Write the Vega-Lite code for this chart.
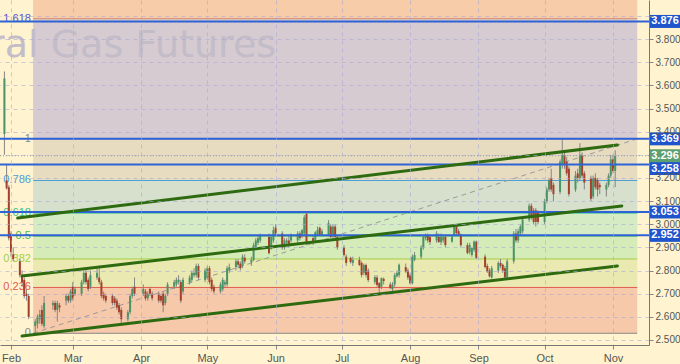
{
"$schema":"https://vega.github.io/schema/vega-lite/v6.json",
"width":649,"height":345,
"autosize":{"type":"none"},
"padding":{"left":0,"top":0,"right":31,"bottom":19},
"background":"#fff4cf",
"config":{"view":{"stroke":null},"font":"Liberation Sans","axis":{"labelOverlap":false,"labelBound":false,"labelSeparation":0},"axisY":{"labelOverlap":false,"tickCount":15}},
"resolve":{"scale":{"color":"independent","fill":"independent"}},
"datasets":{
"fib":[
{"lvl":"0","v":2.529},{"lvl":"0.236","v":2.727},{"lvl":"0.382","v":2.850},{"lvl":"0.5","v":2.949},
{"lvl":"0.618","v":3.048},{"lvl":"0.786","v":3.189},{"lvl":"1","v":3.369},{"lvl":"1.618","v":3.888}
],
"blue":[{"v":3.876},{"v":3.369},{"v":3.258},{"v":3.053},{"v":2.952}],
"price":[{"v":3.296}]
},
"layer":[
{"data":{"values":[
{"b":"a","lo":2.529,"hi":2.727},{"b":"b","lo":2.727,"hi":2.850},{"b":"c","lo":2.850,"hi":2.949},
{"b":"d","lo":2.949,"hi":3.048},{"b":"e","lo":3.048,"hi":3.189},{"b":"f","lo":3.189,"hi":3.369},
{"b":"g","lo":3.369,"hi":3.888},{"b":"h","lo":3.888,"hi":4.728}]},
"mark":{"type":"rect","clip":true},
"encoding":{
"x":{"datum":{"year":2018,"month":2,"date":11},"type":"temporal",
"scale":{"domain":[{"year":2018,"month":1,"date":27},{"year":2018,"month":11,"date":17,"hours":8}],"padding":0,"nice":false},
"axis":{"title":null,"format":"%b","tickCount":{"interval":"month","step":1},"labelColor":"#555555","labelFontSize":11,"labelFont":"Liberation Sans","tickSize":4,"tickColor":"#888888","domainColor":"#777777","grid":true,"gridColor":"#a8a8d8","gridDash":[4,4],"gridOpacity":0.6,"labelPadding":3,"zindex":1,"labelFlush":false,"labelOverlap":false}},
"x2":{"datum":{"year":2018,"month":11,"date":12}},
"y":{"field":"lo","type":"quantitative","scale":{"domain":[2.4784,3.9687],"nice":false,"zero":false,"padding":0},
"axis":{"title":null,"orient":"right","tickCount":15,"values":[2.5,2.6,2.7,2.8,2.9,3.0,3.1,3.2,3.3,3.4,3.5,3.6,3.7,3.8,3.9],"format":".3f","labelExpr":"(datum.value > 3.25 && datum.value < 3.35) || datum.value > 3.85 ? '' : datum.label","labelColor":"#555555","labelFontSize":10,"labelFont":"Liberation Sans","tickSize":4,"tickColor":"#888888","domainColor":"#777777","grid":true,"gridColor":"#a8a8d8","gridDash":[4,4],"gridOpacity":0.6,"labelPadding":2,"zindex":1,"labelOverlap":false}},
"y2":{"field":"hi"},
"fill":{"field":"b","type":"nominal","legend":null,
"scale":{"domain":["a","b","c","d","e","f","g","h"],"range":["#f6c9aa","#ebe9b2","#d6ecb8","#d4ebc4","#d6e0cd","#e8dcc0","#d6cbd0","#f6cca9"]}}
}},
{"data":{"values":[{"t":"Natural Gas Futures"}]},
"mark":{"type":"text","font":"DejaVu Sans","fontSize":38,"align":"right","baseline":"alphabetic","color":"#c3bcc9"},
"encoding":{"x":{"datum":{"year":2018,"month":6,"date":1,"hours":5},"type":"temporal"},"y":{"datum":3.722,"type":"quantitative"},"text":{"field":"t"}}},
{"data":{"name":"fib"},
"mark":{"type":"rule","strokeWidth":1},
"encoding":{"x":{"datum":{"year":2018,"month":2,"date":11},"type":"temporal"},"x2":{"datum":{"year":2018,"month":11,"date":12}},
"y":{"field":"v","type":"quantitative","title":null},
"color":{"field":"lvl","type":"nominal","legend":null,"scale":{"domain":["0","0.236","0.382","0.5","0.618","0.786","1","1.618"],"range":["#888888","#e25a50","#a4cf45","#4cb84c","#33c48c","#4aa0d8","#888888","#d98a6a"]}}}},
{"data":{"name":"fib"},
"mark":{"type":"text","align":"right","baseline":"middle","fontSize":11,"font":"Liberation Sans"},
"encoding":{"x":{"datum":{"year":2018,"month":2,"date":10},"type":"temporal"},
"y":{"field":"v","type":"quantitative","title":null},"text":{"field":"lvl"},
"color":{"field":"lvl","type":"nominal","legend":null,"scale":{"domain":["0","0.236","0.382","0.5","0.618","0.786","1","1.618"],"range":["#888888","#e25a50","#a4cf45","#4cb84c","#33c48c","#4aa0d8","#888888","#5555d0"]}}}},
{"data":{"values":[{"t1":"2018-02-11","v1":2.529,"t2":"2018-11-12","v2":3.369}],"format":{"parse":{"t1":"date:'%Y-%m-%d'","t2":"date:'%Y-%m-%d'"}}},
"mark":{"type":"rule","strokeDash":[5,4],"color":"#9a9a9a","strokeWidth":1},
"encoding":{"x":{"field":"t1","type":"temporal","title":null},"x2":{"field":"t2"},"y":{"field":"v1","type":"quantitative","title":null},"y2":{"field":"v2"}}},
{"data":{"values":[
{"d":"2018-01-29","o":3.39,"h":3.66,"l":3.30,"c":3.63},
{"d":"2018-01-30","o":3.19,"h":3.26,"l":3.15,"c":3.155},
{"d":"2018-01-31","o":3.16,"h":3.17,"l":2.93,"c":2.94},
{"d":"2018-02-01","o":2.96,"h":2.97,"l":2.86,"c":2.88},
{"d":"2018-02-02","o":2.87,"h":2.90,"l":2.84,"c":2.85},
{"d":"2018-02-05","o":2.84,"h":2.85,"l":2.77,"c":2.78},
{"d":"2018-02-06","o":2.78,"h":2.80,"l":2.73,"c":2.75},
{"d":"2018-02-07","o":2.76,"h":2.77,"l":2.68,"c":2.69},
{"d":"2018-02-08","o":2.70,"h":2.72,"l":2.67,"c":2.69},
{"d":"2018-02-09","o":2.69,"h":2.70,"l":2.59,"c":2.60},
{"d":"2018-02-12","o":2.56,"h":2.59,"l":2.529,"c":2.58},
{"d":"2018-02-13","o":2.57,"h":2.61,"l":2.55,"c":2.60},
{"d":"2018-02-14","o":2.59,"h":2.63,"l":2.57,"c":2.61},
{"d":"2018-02-15","o":2.63,"h":2.65,"l":2.56,"c":2.57},
{"d":"2018-02-16","o":2.56,"h":2.69,"l":2.55,"c":2.66},
{"d":"2018-02-20","o":2.65,"h":2.67,"l":2.63,"c":2.66},
{"d":"2018-02-21","o":2.66,"h":2.67,"l":2.62,"c":2.63},
{"d":"2018-02-22","o":2.63,"h":2.67,"l":2.58,"c":2.66},
{"d":"2018-02-23","o":2.65,"h":2.66,"l":2.62,"c":2.64},
{"d":"2018-02-26","o":2.67,"h":2.70,"l":2.65,"c":2.69},
{"d":"2018-02-27","o":2.69,"h":2.70,"l":2.66,"c":2.67},
{"d":"2018-02-28","o":2.67,"h":2.72,"l":2.66,"c":2.71},
{"d":"2018-03-01","o":2.73,"h":2.75,"l":2.67,"c":2.68},
{"d":"2018-03-02","o":2.70,"h":2.73,"l":2.69,"c":2.72},
{"d":"2018-03-05","o":2.70,"h":2.76,"l":2.69,"c":2.75},
{"d":"2018-03-06","o":2.75,"h":2.80,"l":2.74,"c":2.79},
{"d":"2018-03-07","o":2.79,"h":2.81,"l":2.74,"c":2.75},
{"d":"2018-03-08","o":2.76,"h":2.77,"l":2.71,"c":2.72},
{"d":"2018-03-09","o":2.73,"h":2.80,"l":2.72,"c":2.78},
{"d":"2018-03-12","o":2.77,"h":2.81,"l":2.76,"c":2.79},
{"d":"2018-03-13","o":2.77,"h":2.81,"l":2.74,"c":2.75},
{"d":"2018-03-14","o":2.75,"h":2.76,"l":2.68,"c":2.69},
{"d":"2018-03-15","o":2.70,"h":2.71,"l":2.67,"c":2.68},
{"d":"2018-03-16","o":2.69,"h":2.70,"l":2.66,"c":2.67},
{"d":"2018-03-19","o":2.69,"h":2.70,"l":2.65,"c":2.66},
{"d":"2018-03-20","o":2.68,"h":2.69,"l":2.65,"c":2.66},
{"d":"2018-03-21","o":2.67,"h":2.68,"l":2.63,"c":2.64},
{"d":"2018-03-22","o":2.65,"h":2.66,"l":2.61,"c":2.62},
{"d":"2018-03-23","o":2.63,"h":2.64,"l":2.57,"c":2.59},
{"d":"2018-03-26","o":2.59,"h":2.63,"l":2.58,"c":2.62},
{"d":"2018-03-27","o":2.62,"h":2.70,"l":2.61,"c":2.69},
{"d":"2018-03-28","o":2.69,"h":2.73,"l":2.68,"c":2.72},
{"d":"2018-03-29","o":2.73,"h":2.77,"l":2.69,"c":2.70},
{"d":"2018-04-02","o":2.70,"h":2.74,"l":2.69,"c":2.72},
{"d":"2018-04-03","o":2.71,"h":2.72,"l":2.67,"c":2.68},
{"d":"2018-04-04","o":2.68,"h":2.71,"l":2.67,"c":2.70},
{"d":"2018-04-05","o":2.72,"h":2.73,"l":2.69,"c":2.70},
{"d":"2018-04-06","o":2.70,"h":2.71,"l":2.67,"c":2.68},
{"d":"2018-04-09","o":2.70,"h":2.71,"l":2.66,"c":2.67},
{"d":"2018-04-10","o":2.69,"h":2.70,"l":2.66,"c":2.67},
{"d":"2018-04-11","o":2.70,"h":2.71,"l":2.62,"c":2.65},
{"d":"2018-04-12","o":2.66,"h":2.70,"l":2.65,"c":2.69},
{"d":"2018-04-13","o":2.70,"h":2.75,"l":2.69,"c":2.74},
{"d":"2018-04-16","o":2.73,"h":2.76,"l":2.72,"c":2.75},
{"d":"2018-04-17","o":2.74,"h":2.77,"l":2.73,"c":2.76},
{"d":"2018-04-18","o":2.75,"h":2.78,"l":2.74,"c":2.76},
{"d":"2018-04-19","o":2.75,"h":2.76,"l":2.66,"c":2.67},
{"d":"2018-04-20","o":2.71,"h":2.77,"l":2.70,"c":2.76},
{"d":"2018-04-23","o":2.75,"h":2.78,"l":2.74,"c":2.77},
{"d":"2018-04-24","o":2.76,"h":2.80,"l":2.75,"c":2.79},
{"d":"2018-04-25","o":2.78,"h":2.81,"l":2.77,"c":2.79},
{"d":"2018-04-26","o":2.78,"h":2.83,"l":2.77,"c":2.82},
{"d":"2018-04-27","o":2.82,"h":2.83,"l":2.76,"c":2.77},
{"d":"2018-04-30","o":2.76,"h":2.81,"l":2.75,"c":2.80},
{"d":"2018-05-01","o":2.77,"h":2.82,"l":2.76,"c":2.81},
{"d":"2018-05-02","o":2.81,"h":2.82,"l":2.74,"c":2.75},
{"d":"2018-05-03","o":2.76,"h":2.77,"l":2.71,"c":2.72},
{"d":"2018-05-04","o":2.73,"h":2.74,"l":2.70,"c":2.71},
{"d":"2018-05-07","o":2.71,"h":2.75,"l":2.70,"c":2.74},
{"d":"2018-05-08","o":2.72,"h":2.77,"l":2.71,"c":2.76},
{"d":"2018-05-09","o":2.74,"h":2.76,"l":2.73,"c":2.75},
{"d":"2018-05-10","o":2.74,"h":2.82,"l":2.73,"c":2.81},
{"d":"2018-05-11","o":2.80,"h":2.83,"l":2.79,"c":2.815},
{"d":"2018-05-14","o":2.815,"h":2.85,"l":2.80,"c":2.84},
{"d":"2018-05-15","o":2.84,"h":2.85,"l":2.81,"c":2.825},
{"d":"2018-05-16","o":2.83,"h":2.84,"l":2.80,"c":2.81},
{"d":"2018-05-17","o":2.82,"h":2.87,"l":2.81,"c":2.86},
{"d":"2018-05-18","o":2.855,"h":2.87,"l":2.83,"c":2.84},
{"d":"2018-05-21","o":2.835,"h":2.86,"l":2.82,"c":2.846},
{"d":"2018-05-22","o":2.846,"h":2.92,"l":2.84,"c":2.91},
{"d":"2018-05-23","o":2.90,"h":2.94,"l":2.89,"c":2.93},
{"d":"2018-05-24","o":2.92,"h":2.95,"l":2.91,"c":2.94},
{"d":"2018-05-25","o":2.93,"h":2.96,"l":2.92,"c":2.95},
{"d":"2018-05-29","o":2.945,"h":2.96,"l":2.87,"c":2.875},
{"d":"2018-05-30","o":2.90,"h":2.95,"l":2.89,"c":2.945},
{"d":"2018-05-31","o":2.93,"h":2.99,"l":2.92,"c":2.975},
{"d":"2018-06-01","o":2.985,"h":3.00,"l":2.95,"c":2.96},
{"d":"2018-06-04","o":2.96,"h":2.97,"l":2.89,"c":2.90},
{"d":"2018-06-05","o":2.90,"h":2.94,"l":2.89,"c":2.93},
{"d":"2018-06-06","o":2.92,"h":2.94,"l":2.91,"c":2.93},
{"d":"2018-06-07","o":2.93,"h":2.95,"l":2.90,"c":2.91},
{"d":"2018-06-08","o":2.93,"h":2.96,"l":2.92,"c":2.955},
{"d":"2018-06-11","o":2.93,"h":2.97,"l":2.92,"c":2.96},
{"d":"2018-06-12","o":2.96,"h":2.97,"l":2.93,"c":2.94},
{"d":"2018-06-13","o":2.95,"h":2.98,"l":2.94,"c":2.975},
{"d":"2018-06-14","o":2.96,"h":3.04,"l":2.95,"c":3.03},
{"d":"2018-06-15","o":3.045,"h":3.053,"l":2.91,"c":2.92},
{"d":"2018-06-18","o":2.94,"h":2.95,"l":2.91,"c":2.92},
{"d":"2018-06-19","o":2.93,"h":2.97,"l":2.92,"c":2.965},
{"d":"2018-06-20","o":2.955,"h":2.99,"l":2.95,"c":2.975},
{"d":"2018-06-21","o":2.985,"h":2.99,"l":2.95,"c":2.955},
{"d":"2018-06-22","o":2.955,"h":2.98,"l":2.95,"c":2.97},
{"d":"2018-06-25","o":2.955,"h":3.018,"l":2.95,"c":3.005},
{"d":"2018-06-26","o":2.99,"h":3.00,"l":2.94,"c":2.945},
{"d":"2018-06-27","o":2.95,"h":3.00,"l":2.94,"c":2.99},
{"d":"2018-06-28","o":2.99,"h":3.00,"l":2.94,"c":2.945},
{"d":"2018-06-29","o":2.945,"h":2.95,"l":2.89,"c":2.90},
{"d":"2018-07-02","o":2.90,"h":2.91,"l":2.86,"c":2.867},
{"d":"2018-07-03","o":2.86,"h":2.87,"l":2.82,"c":2.833},
{"d":"2018-07-05","o":2.855,"h":2.86,"l":2.83,"c":2.837},
{"d":"2018-07-06","o":2.833,"h":2.86,"l":2.82,"c":2.846},
{"d":"2018-07-09","o":2.846,"h":2.86,"l":2.82,"c":2.824},
{"d":"2018-07-10","o":2.833,"h":2.84,"l":2.77,"c":2.781},
{"d":"2018-07-11","o":2.79,"h":2.83,"l":2.78,"c":2.824},
{"d":"2018-07-12","o":2.824,"h":2.83,"l":2.77,"c":2.781},
{"d":"2018-07-13","o":2.80,"h":2.81,"l":2.75,"c":2.759},
{"d":"2018-07-16","o":2.75,"h":2.78,"l":2.74,"c":2.772},
{"d":"2018-07-17","o":2.77,"h":2.78,"l":2.73,"c":2.738},
{"d":"2018-07-18","o":2.746,"h":2.75,"l":2.70,"c":2.725},
{"d":"2018-07-19","o":2.73,"h":2.77,"l":2.72,"c":2.768},
{"d":"2018-07-20","o":2.764,"h":2.77,"l":2.74,"c":2.755},
{"d":"2018-07-23","o":2.74,"h":2.75,"l":2.72,"c":2.725},
{"d":"2018-07-24","o":2.72,"h":2.75,"l":2.71,"c":2.74},
{"d":"2018-07-25","o":2.74,"h":2.79,"l":2.73,"c":2.78},
{"d":"2018-07-26","o":2.775,"h":2.80,"l":2.77,"c":2.79},
{"d":"2018-07-27","o":2.78,"h":2.83,"l":2.77,"c":2.825},
{"d":"2018-07-30","o":2.815,"h":2.83,"l":2.79,"c":2.795},
{"d":"2018-07-31","o":2.80,"h":2.81,"l":2.76,"c":2.77},
{"d":"2018-08-01","o":2.78,"h":2.79,"l":2.74,"c":2.745},
{"d":"2018-08-02","o":2.745,"h":2.87,"l":2.74,"c":2.86},
{"d":"2018-08-03","o":2.846,"h":2.88,"l":2.84,"c":2.867},
{"d":"2018-08-06","o":2.86,"h":2.91,"l":2.85,"c":2.90},
{"d":"2018-08-07","o":2.897,"h":2.95,"l":2.89,"c":2.945},
{"d":"2018-08-08","o":2.94,"h":2.96,"l":2.93,"c":2.954},
{"d":"2018-08-09","o":2.95,"h":2.96,"l":2.92,"c":2.93},
{"d":"2018-08-10","o":2.945,"h":2.95,"l":2.91,"c":2.923},
{"d":"2018-08-13","o":2.93,"h":2.97,"l":2.92,"c":2.96},
{"d":"2018-08-14","o":2.945,"h":2.96,"l":2.92,"c":2.923},
{"d":"2018-08-15","o":2.923,"h":2.96,"l":2.91,"c":2.945},
{"d":"2018-08-16","o":2.93,"h":2.95,"l":2.92,"c":2.945},
{"d":"2018-08-17","o":2.945,"h":2.95,"l":2.90,"c":2.91},
{"d":"2018-08-20","o":2.925,"h":2.95,"l":2.92,"c":2.946},
{"d":"2018-08-21","o":2.954,"h":2.995,"l":2.95,"c":2.988},
{"d":"2018-08-22","o":2.99,"h":3.00,"l":2.95,"c":2.962},
{"d":"2018-08-23","o":2.97,"h":2.98,"l":2.95,"c":2.955},
{"d":"2018-08-24","o":2.955,"h":2.96,"l":2.90,"c":2.91},
{"d":"2018-08-27","o":2.91,"h":2.92,"l":2.87,"c":2.876},
{"d":"2018-08-28","o":2.88,"h":2.92,"l":2.87,"c":2.91},
{"d":"2018-08-29","o":2.867,"h":2.90,"l":2.86,"c":2.897},
{"d":"2018-08-30","o":2.89,"h":2.93,"l":2.88,"c":2.925},
{"d":"2018-08-31","o":2.925,"h":2.93,"l":2.85,"c":2.855},
{"d":"2018-09-04","o":2.86,"h":2.87,"l":2.81,"c":2.815},
{"d":"2018-09-05","o":2.82,"h":2.83,"l":2.79,"c":2.795},
{"d":"2018-09-06","o":2.80,"h":2.81,"l":2.77,"c":2.775},
{"d":"2018-09-07","o":2.77,"h":2.82,"l":2.765,"c":2.81},
{"d":"2018-09-10","o":2.80,"h":2.84,"l":2.79,"c":2.833},
{"d":"2018-09-11","o":2.833,"h":2.85,"l":2.81,"c":2.82},
{"d":"2018-09-12","o":2.825,"h":2.83,"l":2.79,"c":2.80},
{"d":"2018-09-13","o":2.81,"h":2.82,"l":2.76,"c":2.77},
{"d":"2018-09-14","o":2.77,"h":2.85,"l":2.765,"c":2.84},
{"d":"2018-09-17","o":2.84,"h":2.97,"l":2.83,"c":2.96},
{"d":"2018-09-18","o":2.96,"h":2.98,"l":2.92,"c":2.93},
{"d":"2018-09-19","o":2.93,"h":2.98,"l":2.92,"c":2.97},
{"d":"2018-09-20","o":2.96,"h":3.00,"l":2.95,"c":2.99},
{"d":"2018-09-21","o":2.97,"h":3.03,"l":2.96,"c":3.02},
{"d":"2018-09-24","o":3.02,"h":3.09,"l":3.01,"c":3.08},
{"d":"2018-09-25","o":3.08,"h":3.09,"l":3.02,"c":3.03},
{"d":"2018-09-26","o":3.06,"h":3.07,"l":3.00,"c":3.01},
{"d":"2018-09-27","o":3.06,"h":3.07,"l":2.99,"c":3.01},
{"d":"2018-09-28","o":3.05,"h":3.06,"l":3.00,"c":3.01},
{"d":"2018-10-01","o":3.01,"h":3.11,"l":3.00,"c":3.10},
{"d":"2018-10-02","o":3.10,"h":3.16,"l":3.09,"c":3.15},
{"d":"2018-10-03","o":3.15,"h":3.20,"l":3.14,"c":3.19},
{"d":"2018-10-04","o":3.20,"h":3.24,"l":3.14,"c":3.15},
{"d":"2018-10-05","o":3.17,"h":3.18,"l":3.10,"c":3.13},
{"d":"2018-10-08","o":3.14,"h":3.28,"l":3.13,"c":3.27},
{"d":"2018-10-09","o":3.26,"h":3.369,"l":3.24,"c":3.30},
{"d":"2018-10-10","o":3.30,"h":3.32,"l":3.24,"c":3.26},
{"d":"2018-10-11","o":3.27,"h":3.29,"l":3.21,"c":3.22},
{"d":"2018-10-12","o":3.24,"h":3.25,"l":3.12,"c":3.13},
{"d":"2018-10-15","o":3.15,"h":3.23,"l":3.14,"c":3.21},
{"d":"2018-10-16","o":3.22,"h":3.24,"l":3.18,"c":3.20},
{"d":"2018-10-17","o":3.20,"h":3.35,"l":3.19,"c":3.30},
{"d":"2018-10-18","o":3.30,"h":3.31,"l":3.20,"c":3.21},
{"d":"2018-10-19","o":3.22,"h":3.23,"l":3.15,"c":3.18},
{"d":"2018-10-22","o":3.20,"h":3.21,"l":3.10,"c":3.11},
{"d":"2018-10-23","o":3.12,"h":3.21,"l":3.11,"c":3.20},
{"d":"2018-10-24","o":3.20,"h":3.22,"l":3.15,"c":3.16},
{"d":"2018-10-25","o":3.19,"h":3.20,"l":3.12,"c":3.15},
{"d":"2018-10-26","o":3.17,"h":3.18,"l":3.13,"c":3.16},
{"d":"2018-10-29","o":3.15,"h":3.18,"l":3.12,"c":3.17},
{"d":"2018-10-30","o":3.17,"h":3.22,"l":3.16,"c":3.21},
{"d":"2018-10-31","o":3.21,"h":3.30,"l":3.20,"c":3.28},
{"d":"2018-11-01","o":3.28,"h":3.30,"l":3.22,"c":3.23},
{"d":"2018-11-02","o":3.23,"h":3.32,"l":3.16,"c":3.296}
],"format":{"parse":{"d":"date:'%Y-%m-%d'"}}},
"layer":[
{"mark":{"type":"rule","color":"#858585","strokeWidth":1},
"encoding":{"x":{"field":"d","type":"temporal","title":null},"y":{"field":"l","type":"quantitative","title":null},"y2":{"field":"h"}}},
{"mark":{"type":"bar","size":2},
"encoding":{"x":{"field":"d","type":"temporal","title":null},"y":{"field":"o","type":"quantitative","title":null},"y2":{"field":"c"},
"color":{"condition":{"test":"datum.c >= datum.o","value":"#4a9466"},"value":"#a5402b"}}}
]},
{"data":{"name":"price"},
"mark":{"type":"rule","color":"#8f9a8f","strokeDash":[1,2],"strokeWidth":1},
"encoding":{"y":{"field":"v","type":"quantitative","title":null}}},
{"data":{"name":"blue"},
"mark":{"type":"rule","color":"#2f62d6","strokeWidth":2},
"encoding":{"y":{"field":"v","type":"quantitative","title":null}}},
{"data":{"values":[
{"t1":"2018-02-04","v1":3.027,"t2":"2018-11-03","v2":3.342},
{"t1":"2018-02-06","v1":2.776,"t2":"2018-11-05","v2":3.079},
{"t1":"2018-02-06","v1":2.517,"t2":"2018-11-03","v2":2.820}],"format":{"parse":{"t1":"date:'%Y-%m-%d'","t2":"date:'%Y-%m-%d'"}}},
"mark":{"type":"rule","color":"#2e6b10","strokeWidth":3,"strokeCap":"round"},
"encoding":{"x":{"field":"t1","type":"temporal","title":null},"x2":{"field":"t2"},"y":{"field":"v1","type":"quantitative","title":null},"y2":{"field":"v2"}}},
{"data":{"name":"blue"},
"transform":[{"filter":"datum.v != 3.258"}],
"mark":{"type":"tick","orient":"horizontal","size":31,"thickness":13,"color":"#1f55cc","opacity":1},
"encoding":{"x":{"datum":{"year":2018,"month":11,"date":24,"hours":14},"type":"temporal"},"y":{"field":"v","type":"quantitative","title":null}}},
{"data":{"name":"blue"},
"transform":[{"filter":"datum.v == 3.258"}],
"mark":{"type":"tick","orient":"horizontal","size":31,"thickness":13,"color":"#1f55cc","opacity":1,"yOffset":4},
"encoding":{"x":{"datum":{"year":2018,"month":11,"date":24,"hours":14},"type":"temporal"},"y":{"field":"v","type":"quantitative","title":null}}},
{"data":{"name":"price"},
"mark":{"type":"tick","orient":"horizontal","size":31,"thickness":13,"color":"#5c9f70","opacity":1},
"encoding":{"x":{"datum":{"year":2018,"month":11,"date":24,"hours":14},"type":"temporal"},"y":{"field":"v","type":"quantitative","title":null}}},
{"data":{"name":"blue"},
"transform":[{"filter":"datum.v != 3.258"}],
"mark":{"type":"text","color":"white","fontSize":11,"fontWeight":"bold","font":"Liberation Sans","align":"center","baseline":"middle"},
"encoding":{"x":{"datum":{"year":2018,"month":11,"date":24,"hours":14},"type":"temporal"},"y":{"field":"v","type":"quantitative","title":null},"text":{"field":"v","type":"quantitative","format":".3f"}}},
{"data":{"name":"blue"},
"transform":[{"filter":"datum.v == 3.258"}],
"mark":{"type":"text","color":"white","fontSize":11,"fontWeight":"bold","font":"Liberation Sans","align":"center","baseline":"middle","yOffset":4},
"encoding":{"x":{"datum":{"year":2018,"month":11,"date":24,"hours":14},"type":"temporal"},"y":{"field":"v","type":"quantitative","title":null},"text":{"field":"v","type":"quantitative","format":".3f"}}},
{"data":{"name":"price"},
"mark":{"type":"text","color":"white","fontSize":11,"fontWeight":"bold","font":"Liberation Sans","align":"center","baseline":"middle"},
"encoding":{"x":{"datum":{"year":2018,"month":11,"date":24,"hours":14},"type":"temporal"},"y":{"field":"v","type":"quantitative","title":null},"text":{"field":"v","type":"quantitative","format":".3f"}}}
]
}
